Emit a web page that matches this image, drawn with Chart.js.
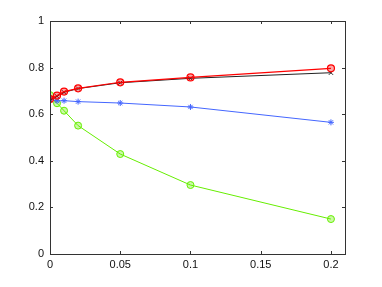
<!DOCTYPE html>
<html lang="en">
<head>
    <meta charset="UTF-8">
    <title>Chart</title>
    <script src="https://cdn.jsdelivr.net/npm/chart.js"></script>
    <style>
        html, body { margin: 0; padding: 0; background: #fff; }
        #wrap { width: 382px; height: 287px; }
    </style>
</head>
<body>
    <div id="wrap"><canvas id="myChart"></canvas></div>

    <script>
        // valores
        const xValues = [0, 0.005, 0.01, 0.02, 0.05, 0.1, 0.2];
        const redValues = [0.665, 0.68, 0.697, 0.711, 0.737, 0.758, 0.797];
        const blackValues = [0.66, 0.677, 0.694, 0.71, 0.735, 0.754, 0.778];
        const blueValues = [0.665, 0.657, 0.658, 0.654, 0.648, 0.631, 0.565];
        const greenValues = [0.682, 0.647, 0.615, 0.551, 0.429, 0.296, 0.15];
        const xTicks = [0, 0.05, 0.1, 0.15, 0.2];
        const yTicks = [0, 0.2, 0.4, 0.6, 0.8, 1];

        function toPoints(ys) {
            return xValues.map((x, i) => ({ x: x, y: ys[i] }));
        }

        // caja estilo matlab con marcas hacia adentro
        const boxPlugin = {
            id: 'box',
            afterDraw(chart) {
                const ctx = chart.ctx;
                const a = chart.chartArea;
                const xs = chart.scales.x, ys = chart.scales.y;
                ctx.save();
                ctx.strokeStyle = '#333';
                ctx.lineWidth = 1;
                ctx.strokeRect(Math.round(a.left) + 0.5, Math.round(a.top) + 0.5,
                    Math.round(a.right - a.left), Math.round(a.bottom - a.top));
                ctx.beginPath();
                xTicks.forEach(v => {
                    const px = Math.round(xs.getPixelForValue(v)) + 0.5;
                    ctx.moveTo(px, a.bottom); ctx.lineTo(px, a.bottom - 3);
                    ctx.moveTo(px, a.top); ctx.lineTo(px, a.top + 3);
                });
                yTicks.forEach(v => {
                    const py = Math.round(ys.getPixelForValue(v)) + 0.5;
                    ctx.moveTo(a.left, py); ctx.lineTo(a.left + 3, py);
                    ctx.moveTo(a.right, py); ctx.lineTo(a.right - 3, py);
                });
                ctx.stroke();
                ctx.restore();
            }
        };

        const ctx = document.getElementById('myChart').getContext('2d');
        new Chart(ctx, {
            type: 'line',
            data: {
                datasets: [
                    {
                        data: toPoints(redValues),
                        borderColor: '#ff0000',
                        backgroundColor: 'rgba(255,0,0,0.35)',
                        pointStyle: 'circle',
                        pointRadius: 3.5,
                        borderWidth: 1.2
                    },
                    {
                        data: toPoints(blackValues),
                        borderColor: '#222',
                        backgroundColor: '#222',
                        pointStyle: 'crossRot',
                        pointRadius: 3,
                        borderWidth: 1
                    },
                    {
                        data: toPoints(blueValues),
                        borderColor: '#4466ff',
                        backgroundColor: '#2244ff',
                        pointStyle: 'star',
                        pointRadius: 3,
                        borderWidth: 1
                    },
                    {
                        data: toPoints(greenValues),
                        borderColor: '#66ee00',
                        backgroundColor: 'rgba(102,238,0,0.35)',
                        pointStyle: 'circle',
                        pointRadius: 3.5,
                        borderWidth: 1
                    }
                ]
            },
            options: {
                responsive: true,
                maintainAspectRatio: false,
                animation: false,
                layout: { padding: { left: 0, top: 21, right: 37, bottom: 0 } },
                plugins: { legend: { display: false }, tooltip: { enabled: false } },
                scales: {
                    x: {
                        type: 'linear',
                        min: 0,
                        max: 0.21,
                        afterFit: s => { s.height = 33; },
                        afterBuildTicks: s => { s.ticks = xTicks.map(v => ({ value: v })); },
                        grid: { display: false, drawTicks: false },
                        border: { display: false },
                        ticks: {
                            padding: 4,
                            color: '#111',
                            font: { family: 'Liberation Sans', size: 11 },
                            callback: v => String(+v.toFixed(3))
                        }
                    },
                    y: {
                        min: 0,
                        max: 1,
                        afterFit: s => { s.width = 50; },
                        afterBuildTicks: s => { s.ticks = yTicks.map(v => ({ value: v })); },
                        grid: { display: false, drawTicks: false },
                        border: { display: false },
                        ticks: {
                            padding: 6,
                            color: '#111',
                            font: { family: 'Liberation Sans', size: 11 },
                            callback: v => String(+v.toFixed(2))
                        }
                    }
                }
            },
            plugins: [boxPlugin]
        });
    </script>
</body>
</html>
